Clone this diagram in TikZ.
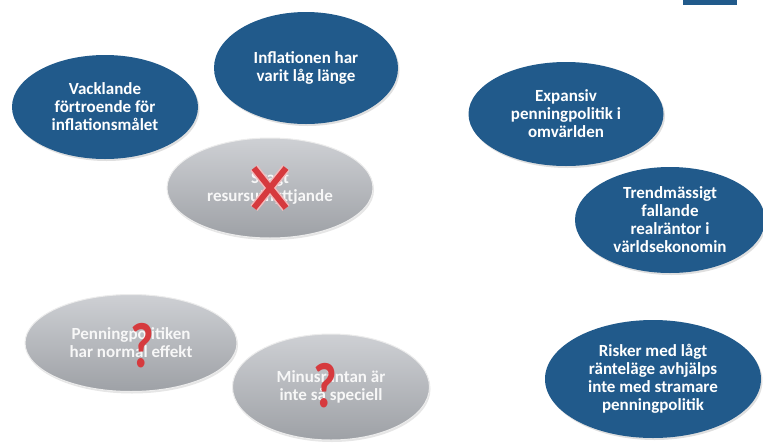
\documentclass[tikz,border=0pt]{standalone}
\usepackage{fontspec}
\setmainfont{Carlito}
\usetikzlibrary{positioning,shapes.geometric,shadows}

\definecolor{bubbleblue}{RGB}{33,90,139}
\definecolor{bubblegraytop}{RGB}{206,208,212}
\definecolor{bubblegraybot}{RGB}{158,161,166}
\definecolor{markred}{RGB}{214,58,62}

\begin{document}
\begin{tikzpicture}[
  x = 1pt, y = -1pt,
  bubble/.style = {ellipse, inner sep = 0pt, align = center,
    font = \fontsize{17}{18}\selectfont\bfseries, text = white},
  factor/.style = {bubble, fill = bubbleblue,
    drop shadow = {shadow xshift = 1.5pt, shadow yshift = -2pt, opacity = .25}},
  doubt/.style = {bubble, top color = bubblegraytop, bottom color = bubblegraybot,
    draw = white!85!gray, line width = 1pt, text = white!94!gray,
    drop shadow = {shadow xshift = 1pt, shadow yshift = -2pt, opacity = .2}},
  question/.style = {font = \fontsize{64}{64}\selectfont\bfseries,
    inner sep = 0pt, xscale = .8, text = markred},
  ]
  \useasboundingbox (0,0) rectangle (763,445);
  \fill[bubbleblue] (683,0) rectangle (737,5);

  % blue bubbles
  \node[factor, minimum width = 186pt, minimum height = 104pt] (vacklande)
    at (105,107) {Vacklande\\förtroende för\\inflationsmålet};
  \node[factor, minimum width = 184pt, minimum height = 112pt] (inflation-low)
    at (306,68) {Inflationen har\\varit låg länge};
  \node[factor, minimum width = 195pt, minimum height = 104pt] (expansiv)
    at (566,114) {Expansiv\\penningpolitik i\\omvärlden};
  \node[factor, minimum width = 190pt, minimum height = 106pt] (trend)
    at (670,220) {Trendmässigt\\fallande\\realräntor i\\världsekonomin};
  \node[factor, minimum width = 216pt, minimum height = 118pt] (risker)
    at (653,379) {Risker med lågt\\ränteläge avhjälps\\inte med stramare\\penningpolitik};

  % gray bubbles
  \node[doubt, minimum width = 206pt, minimum height = 100pt] (svagt)
    at (270,188) {Svagt\\resursutnyttjande};
  \node[doubt, minimum width = 212pt, minimum height = 97pt] (normal-effekt)
    at (131,343) {Penningpolitiken\\har normal effekt};
  \node[doubt, minimum width = 197pt, minimum height = 106pt] (minusranta)
    at (331,387) {Minusräntan är\\inte så speciell};

  % cross over svagt
  \foreach \dx in {-1, 1} {
    \draw[line width = 9pt, white!65!markred]
      ([shift = {(-16*\dx pt,20pt)}]svagt.center) -- ([shift = {(16*\dx pt,-20pt)}]svagt.center);
  }
  \foreach \dx in {-1, 1} {
    \draw[line width = 6pt, markred]
      ([shift = {(-16*\dx pt,20pt)}]svagt.center) -- ([shift = {(16*\dx pt,-20pt)}]svagt.center);
  }

  % question marks
  \node[question] (q-normal) at (142,346) {?};
  \node[question] (q-minus) at (325,386) {?};
\end{tikzpicture}
\end{document}
